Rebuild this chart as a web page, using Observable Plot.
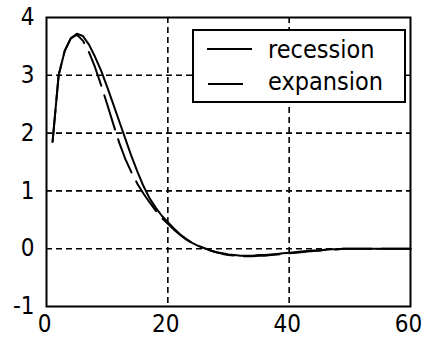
<!DOCTYPE html>
<html>
<head>
<meta charset="utf-8">
<script src="https://cdn.jsdelivr.net/npm/d3@7"></script>
<script src="https://cdn.jsdelivr.net/npm/@observablehq/plot@0.6"></script>
<style>
  html, body { margin: 0; padding: 0; background: #fff; }
  #wrap { position: relative; width: 426px; height: 338px; overflow: hidden; }
  #legend { position: absolute; left: 0; top: 0; pointer-events: none; }
</style>
</head>
<body>
<div id="wrap"></div>
<script>
const periods = [1,2,3,4,5,6,7,8,9,10,11,12,13,14,15,16,17,18,19,20,21,22,23,24,25,26,27,28,29,30,31,32,33,34,35,36,37,38,39,40,41,42,43,44,45,46,47,48,49,50,51,52,53,54,55,56,57,58,59,60];
const recession = [1.85,3.0,3.42,3.64,3.72,3.68,3.53,3.32,3.08,2.8,2.5,2.2,1.9,1.6,1.33,1.08,0.87,0.71,0.57,0.46,0.35,0.25,0.17,0.1,0.05,0.01,-0.03,-0.06,-0.08,-0.1,-0.11,-0.12,-0.12,-0.12,-0.11,-0.11,-0.1,-0.09,-0.08,-0.07,-0.06,-0.05,-0.04,-0.03,-0.03,-0.02,-0.01,-0.01,0,0,0,0,0,0,0,0,0,0,0,0];
const expansion = [1.85,3.0,3.42,3.64,3.7,3.6,3.4,3.14,2.83,2.5,2.16,1.83,1.55,1.32,1.12,0.95,0.8,0.66,0.53,0.43,0.33,0.24,0.16,0.1,0.05,0.01,-0.03,-0.06,-0.09,-0.11,-0.12,-0.13,-0.13,-0.13,-0.12,-0.12,-0.11,-0.1,-0.09,-0.08,-0.07,-0.06,-0.05,-0.04,-0.03,-0.02,-0.02,-0.01,0,0,0,0,0,0,0,0,0,0,0,0];
const xTicks = [0, 20, 40, 60];
const yTicks = [-1, 0, 1, 2, 3, 4];
const xGrid = [20, 40];
const yGrid = [0, 1, 2, 3];
const seriesNames = ["recession", "expansion"];

const recData = periods.map((p, i) => ({x: p, y: recession[i]}));
const expData = periods.map((p, i) => ({x: p, y: expansion[i]}));

const font = '"DejaVu Sans Condensed", "DejaVu Sans", sans-serif';
const fmt = d => String(d);

const chart = Plot.plot({
  width: 426,
  height: 338,
  marginLeft: 46,
  marginRight: 16,
  marginTop: 17,
  marginBottom: 32,
  style: {fontFamily: font, fontSize: "24px", color: "#000", background: "#fff", fontStretch: "condensed"},
  x: {domain: [0, 60]},
  y: {domain: [-1, 4]},
  marks: [
    Plot.ruleX(xGrid, {stroke: "#000", strokeWidth: 1.6, strokeDasharray: "6,4"}),
    Plot.ruleY(yGrid, {stroke: "#000", strokeWidth: 1.6, strokeDasharray: "6,4"}),
    Plot.line(expData, {x: "x", y: "y", stroke: "#000", strokeWidth: 2, strokeDasharray: "36,10", strokeDashoffset: 4}),
    Plot.line(recData, {x: "x", y: "y", stroke: "#000", strokeWidth: 2}),
    Plot.frame({stroke: "#000", strokeWidth: 2}),
    Plot.axisX({ticks: xTicks, tickFormat: fmt, tickSize: 0, tickPadding: 8, label: null, fontSize: 24, dx: -2}),
    Plot.axisY({ticks: yTicks, tickFormat: fmt, tickSize: 0, tickPadding: 12, label: null, fontSize: 24})
  ]
});

const wrap = document.getElementById("wrap");
wrap.appendChild(chart);

// Legend overlay (positioned in pixels, not data)
const ns = "http://www.w3.org/2000/svg";
const leg = document.createElementNS(ns, "svg");
leg.setAttribute("id", "legend");
leg.setAttribute("width", "426");
leg.setAttribute("height", "338");
leg.innerHTML = `
  <rect x="193" y="30" width="212" height="72" fill="#fff" stroke="#000" stroke-width="2"/>
  <line x1="207" x2="252" y1="49" y2="49" stroke="#000" stroke-width="2"/>
  <line x1="208" x2="243" y1="84" y2="84" stroke="#000" stroke-width="2"/>
  <text x="268" y="58" font-family='${font}' font-stretch="condensed" font-size="25" fill="#000">${seriesNames[0]}</text>
  <text x="268" y="90" font-family='${font}' font-stretch="condensed" font-size="25" fill="#000">${seriesNames[1]}</text>
`;
wrap.appendChild(leg);
</script>
</body>
</html>
